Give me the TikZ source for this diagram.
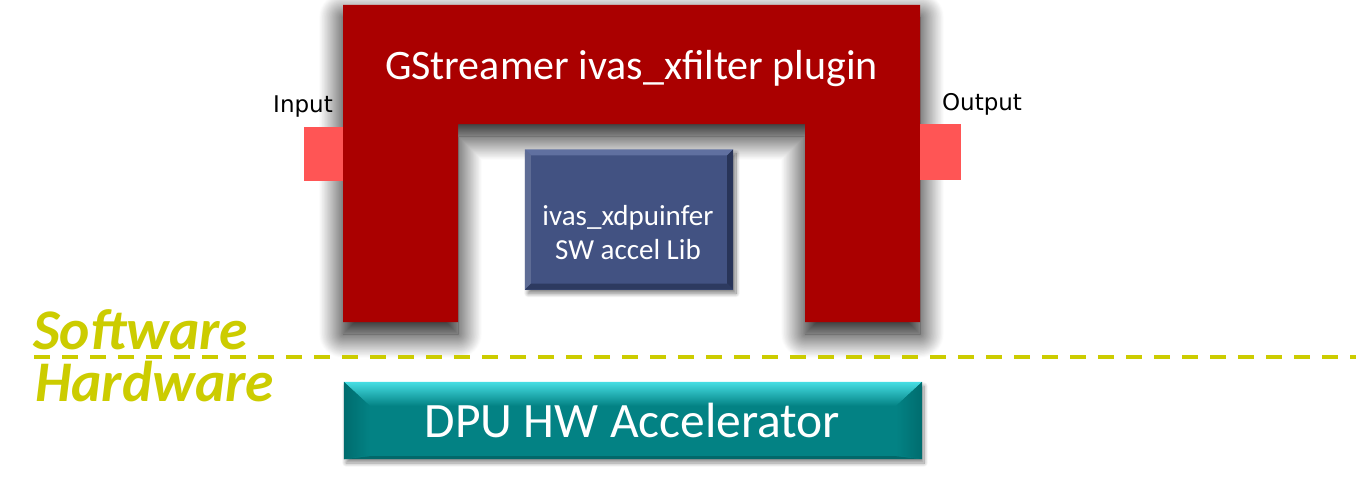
\documentclass[tikz,border=0pt]{standalone}
\usepackage{fontspec}
\setmainfont{Carlito}
\newfontfamily\dejavu{DejaVu Sans}
\usetikzlibrary{shadows.blur}
\definecolor{frameRed}{RGB}{170,0,0}
\definecolor{padRed}{RGB}{255,85,85}
\definecolor{libBlue}{RGB}{66,82,130}
\definecolor{libLight}{RGB}{96,112,160}
\definecolor{libDark}{RGB}{40,52,88}
\definecolor{dpuTeal}{RGB}{3,130,132}
\definecolor{dpuCyan}{RGB}{70,222,228}
\definecolor{dpuDark}{RGB}{0,108,110}
\definecolor{lineYel}{RGB}{204,204,0}
\tikzset{
  padbox/.style={fill=padRed, draw=none},
  portlabel/.style={font=\dejavu\fontsize{23}{26}\selectfont, text=black, inner sep=0pt, anchor=base},
  libbox/.style={fill=libBlue, draw=none, minimum width=208pt, minimum height=140pt, inner sep=0pt,
    blur shadow={shadow xshift=3pt, shadow yshift=-4pt, shadow blur radius=4pt, shadow blur steps=12, shadow opacity=50}},
  dpubox/.style={fill=dpuTeal, draw=none, minimum width=578pt, minimum height=77pt, inner sep=0pt,
    blur shadow={shadow xshift=2pt, shadow yshift=-4pt, shadow blur radius=4pt, shadow blur steps=12, shadow opacity=45}},
  whitetext/.style={text=white, inner sep=0pt, anchor=base},
  swhw/.style={text=lineYel, inner sep=0pt, anchor=base west, font=\bfseries\itshape\fontsize{57.5}{62}\selectfont},
  divider/.style={draw=lineYel, line width=4pt, dash pattern=on 16pt off 12pt}
}
\begin{document}
\begin{tikzpicture}[x=1pt,y=-1pt]
\useasboundingbox (0,0) rectangle (1356,495);
% main frame with shadow
\path[fill=frameRed, blur shadow={shadow xshift=0pt, shadow yshift=-12pt, shadow blur radius=24pt, shadow blur steps=40, shadow opacity=100}]
  (343,5) -- (920,5) -- (920,322) -- (805,322) -- (805,124) -- (458,124) -- (458,322) -- (343,322) -- cycle;
% pads
\fill[padbox] (304,127) rectangle (343,181);
\fill[padbox] (920,124) rectangle (961,180);
% labels
\node[portlabel] (inlab) at (303,112) {Input};
\node[portlabel] (outlab) at (982,110) {Output};
\node[whitetext, font=\fontsize{42}{46}\selectfont] (title) at (631.5,79) {GStreamer ivas\_xfilter plugin};
% lib box
\node[libbox] (lib) at (629,219.5) {};
\fill[libLight] (lib.north west) -- (lib.north east) -- ([xshift=-6pt,yshift=-6pt]lib.north east) -- ([xshift=6pt,yshift=-6pt]lib.north west) -- cycle;
\fill[libBlue!85!white] (lib.north west) -- ([xshift=6pt,yshift=-6pt]lib.north west) -- ([xshift=6pt,yshift=6pt]lib.south west) -- (lib.south west) -- cycle;
\fill[libDark] (lib.north east) -- (lib.south east) -- ([xshift=-6pt,yshift=6pt]lib.south east) -- ([xshift=-6pt,yshift=-6pt]lib.north east) -- cycle;
\fill[libDark!80!libBlue] (lib.south west) -- (lib.south east) -- ([xshift=-6pt,yshift=6pt]lib.south east) -- ([xshift=6pt,yshift=6pt]lib.south west) -- cycle;
\node[whitetext, align=center, anchor=center, font=\fontsize{29}{34}\selectfont] (libtext) at (628,233) {ivas\_xdpuinfer\\SW accel Lib};
% divider
\coordinate (dl) at (34,356.5);
\coordinate (dr) at (1356,356.5);
\draw[divider] (dl) -- (dr);
\node[swhw] (sw) at (33,349) {Software};
\node[swhw] (hw) at (35,401) {Hardware};
% DPU box
\node[dpubox] (dpu) at (633,420.5) {};
\shade[top color=dpuCyan, bottom color=dpuTeal] (dpu.north west) -- (dpu.north east) -- ([xshift=-26pt,yshift=-24pt]dpu.north east) -- ([xshift=26pt,yshift=-24pt]dpu.north west) -- cycle;
\shade[left color=dpuDark, right color=dpuTeal] (dpu.north west) -- ([xshift=26pt,yshift=-24pt]dpu.north west) -- ([xshift=26pt,yshift=4pt]dpu.south west) -- (dpu.south west) -- cycle;
\shade[left color=dpuTeal, right color=dpuDark] (dpu.north east) -- ([xshift=-26pt,yshift=-24pt]dpu.north east) -- ([xshift=-26pt,yshift=4pt]dpu.south east) -- (dpu.south east) -- cycle;
\fill[dpuTeal!80!black] (dpu.south west) -- (dpu.south east) -- ([xshift=-26pt,yshift=3pt]dpu.south east) -- ([xshift=26pt,yshift=3pt]dpu.south west) -- cycle;
\node[whitetext, font=\fontsize{49.5}{54}\selectfont] (dputext) at (632.5,437) {DPU HW Accelerator};
\end{tikzpicture}
\end{document}
